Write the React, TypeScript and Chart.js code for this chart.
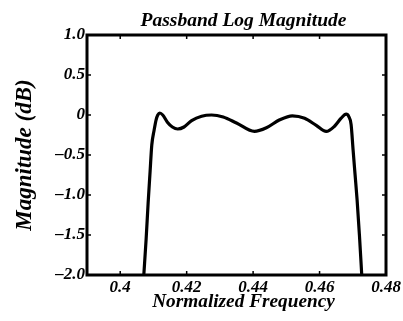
import React, { useEffect, useRef } from "react";
import { Chart, registerables } from "chart.js";

Chart.register(...registerables);

const FREQ = [0.4071, 0.4078, 0.4084, 0.409, 0.4095, 0.4102, 0.4108, 0.4113, 0.4119, 0.4128, 0.4142, 0.4157, 0.4173, 0.4192, 0.4215, 0.4245, 0.4275, 0.431, 0.435, 0.4404, 0.444, 0.448, 0.4518, 0.4555, 0.459, 0.462, 0.4645, 0.4665, 0.468, 0.4688, 0.4695, 0.4701, 0.4707, 0.4713, 0.472, 0.4727];
const MAG = [-2.0, -1.55, -1.1, -0.7, -0.375, -0.19, -0.06, 0.0, 0.025, 0.0, -0.09, -0.15, -0.175, -0.15, -0.07, -0.015, 0.0, -0.025, -0.1, -0.205, -0.16, -0.06, -0.01, -0.04, -0.13, -0.205, -0.14, -0.04, 0.01, -0.02, -0.12, -0.44, -0.75, -1.06, -1.5, -2.0];

const X_TICKS = [0.4, 0.42, 0.44, 0.46, 0.48];
const X_TICK_LABELS = ["0.4", "0.42", "0.44", "0.46", "0.48"];
const Y_TICKS = [1.0, 0.5, 0, -0.5, -1.0, -1.5, -2.0];
const Y_TICK_LABELS = ["1.0", "0.5", "0", "\u2013" + "0.5", "\u2013" + "1.0", "\u2013" + "1.5", "\u2013" + "2.0"];

const TITLE = "Passband Log Magnitude";
const X_TITLE = "Normalized Frequency";
const Y_TITLE = "Magnitude (dB)";

const SERIF = "'Liberation Serif', 'DejaVu Serif', serif";

const frameTicks = {
  id: "frameTicks",
  afterDatasetsDraw(chart: any) {
    const { ctx, chartArea: a, scales } = chart;
    const xs = scales.x;
    const ys = scales.y;
    ctx.save();
    ctx.strokeStyle = "#000";
    ctx.lineWidth = 1.5;
    const L = 4;
    ctx.beginPath();
    X_TICKS.forEach((v) => {
      const px = xs.getPixelForValue(v);
      ctx.moveTo(px, a.bottom);
      ctx.lineTo(px, a.bottom - L);
      ctx.moveTo(px, a.top);
      ctx.lineTo(px, a.top + L);
    });
    Y_TICKS.forEach((v) => {
      const py = ys.getPixelForValue(v);
      ctx.moveTo(a.left, py);
      ctx.lineTo(a.left + L, py);
      ctx.moveTo(a.right, py);
      ctx.lineTo(a.right - L, py);
    });
    ctx.stroke();
    ctx.lineWidth = 3;
    ctx.strokeRect(a.left, a.top, a.right - a.left, a.bottom - a.top);

    // titles
    const cx = (a.left + a.right) / 2 + 7;
    ctx.fillStyle = "#000";
    ctx.textAlign = "center";
    ctx.textBaseline = "alphabetic";
    ctx.font = `italic bold 19.5px ${SERIF}`;
    ctx.fillText(TITLE, cx, a.top - 9);
    ctx.font = `italic bold 19.3px ${SERIF}`;
    ctx.fillText(X_TITLE, cx, a.bottom + 32);
    ctx.restore();
  },
};

export default function App() {
  const ref = useRef<HTMLCanvasElement | null>(null);
  useEffect(() => {
    if (!ref.current) return;
    const chart = new Chart(ref.current, {
      type: "line",
      data: {
        datasets: [
          {
            data: FREQ.map((f, i) => ({ x: f, y: MAG[i] })),
            borderColor: "#000",
            borderWidth: 3.2,
            pointRadius: 0,
            cubicInterpolationMode: "monotone",
            fill: false,
          },
        ],
      },
      options: {
        animation: false,
        responsive: false,
        maintainAspectRatio: false,
        layout: { padding: { top: 35, right: 17, bottom: 0, left: 0 } },
        plugins: {
          legend: { display: false },
          tooltip: { enabled: false },
          title: { display: false },
        },
        scales: {
          x: {
            type: "linear",
            min: 0.39,
            max: 0.48,
            afterBuildTicks: (s: any) => {
              s.ticks = X_TICKS.map((v) => ({ value: v }));
            },
            afterFit: (s: any) => {
              s.height = 46;
            },
            grid: { display: false, drawTicks: false },
            border: { display: false },
            ticks: {
              color: "#000",
              padding: 2,
              maxRotation: 0,
              autoSkip: false,
              font: { family: SERIF, size: 17, style: "italic", weight: "bold" },
              callback: (v: any) => {
                const i = X_TICKS.findIndex((t) => Math.abs(t - v) < 1e-9);
                return i >= 0 ? X_TICK_LABELS[i] : "";
              },
            },
            title: { display: false },
          },
          y: {
            type: "linear",
            min: -2,
            max: 1,
            afterBuildTicks: (s: any) => {
              s.ticks = Y_TICKS.map((v) => ({ value: v }));
            },
            afterFit: (s: any) => {
              s.width = 87;
            },
            grid: { display: false, drawTicks: false },
            border: { display: false },
            ticks: {
              color: "#000",
              padding: 2,
              autoSkip: false,
              font: { family: SERIF, size: 17, style: "italic", weight: "bold" },
              callback: (v: any) => {
                const i = Y_TICKS.findIndex((t) => Math.abs(t - v) < 1e-9);
                return i >= 0 ? Y_TICK_LABELS[i] : "";
              },
            },
            title: {
              display: true,
              text: Y_TITLE,
              color: "#000",
              padding: { top: 11, bottom: 11 },
              font: { family: SERIF, size: 23, style: "italic", weight: "bold" },
            },
          },
        },
      },
      plugins: [frameTicks],
    } as any);
    return () => chart.destroy();
  }, []);
  return (
    <div style={{ position: "fixed", left: 0, top: 0, width: 403, height: 321, background: "#fff" }}>
      <canvas ref={ref} width={403} height={321} style={{ width: 403, height: 321 }} />
    </div>
  );
}
